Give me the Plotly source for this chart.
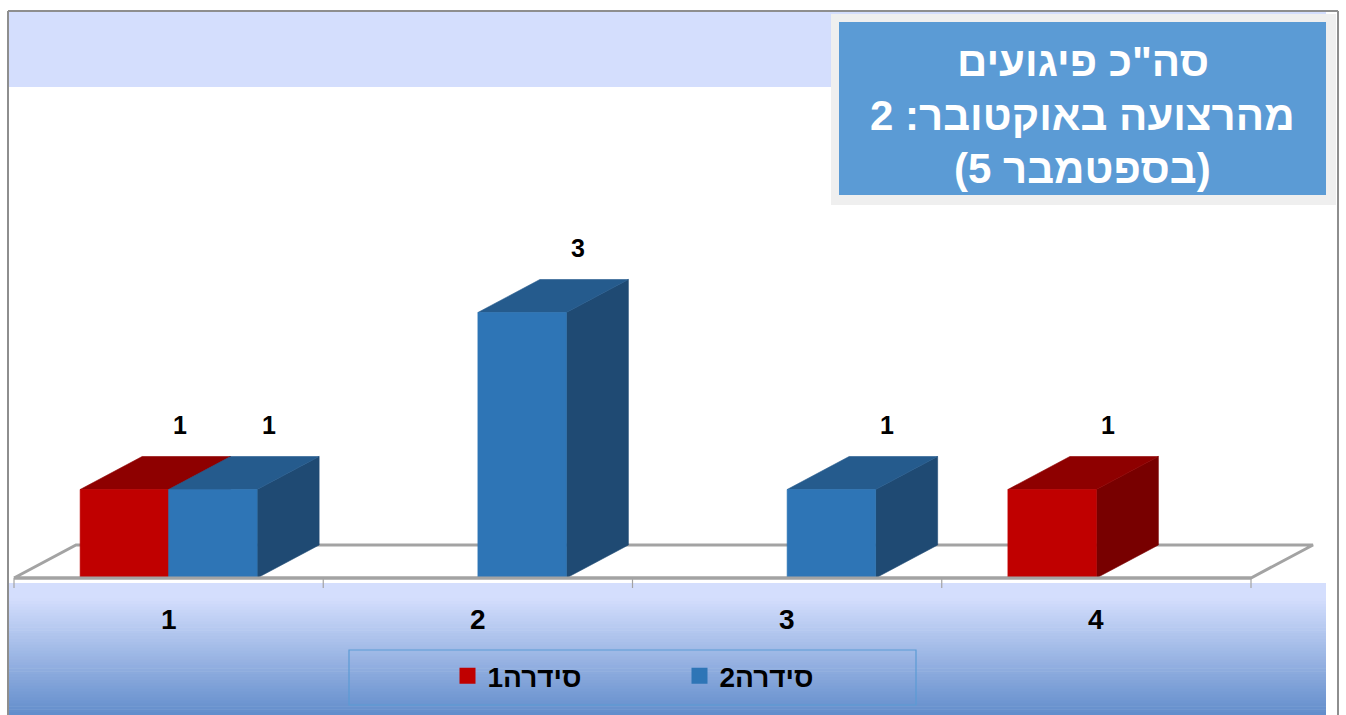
import plotly.graph_objects as go

# ---------------- data ----------------
categories = [1, 2, 3, 4]
category_labels = ["1", "2", "3", "4"]
series_names = ["סידרה1", "סידרה2"]
series1 = [1, 0, 0, 1]
series2 = [1, 3, 1, 0]
title_lines = ['סה"כ פיגועים', 'מהרצועה באוקטובר: 2', '(5 בספטמבר)']

# ---------------- geometry / style ----------------
W, H = 1346, 715
FONT = "Liberation Sans, Arial, sans-serif"
TITLE_FONT = "Liberation Sans, Arial, sans-serif"
PX_PER_CAT = 309.25
PX_PER_UNIT = 88.5
X0_PX, Y0_PX = 14, 578            # pixel of (0.5, 0)
BAR_W = 88.5 / PX_PER_CAT
DX = 62 / PX_PER_CAT
DY = 33 / PX_PER_UNIT
FLOOR_GRAY = "#A3A3A3"

palette = [
    dict(front="#C00000", top="#8E0000", side="#780000", legend="#C00000"),
    dict(front="#2E75B6", top="#255B8D", side="#1F4A73", legend="#2E75B6"),
]
series_values = [series1, series2]
series_offsets = [-BAR_W, 0.0]


def px(x):
    return x / W


def py(y):
    return 1 - y / H


fig = go.Figure()


def poly(xs, ys, fill, line_color=None, line_width=0.6):
    fig.add_trace(go.Scatter(
        x=xs + [xs[0]], y=ys + [ys[0]], mode="lines", fill="toself",
        fillcolor=fill, line=dict(color=line_color or fill, width=line_width),
        hoverinfo="skip", showlegend=False))


# floor
lo, hi = categories[0] - 0.5, categories[-1] + 0.5
poly([lo, hi, hi + DX, lo + DX], [0, 0, DY, DY], "white", FLOOR_GRAY, 3)

# tick marks between categories
tx, ty = [], []
for i in range(len(categories) + 1):
    xb = lo + i
    tx += [xb, xb, None]
    ty += [0, -10 / PX_PER_UNIT, None]
fig.add_trace(go.Scatter(x=tx, y=ty, mode="lines", line=dict(color=FLOOR_GRAY, width=1.2),
                         hoverinfo="skip", showlegend=False))

# 3D bars
labels = []
for ci, c in enumerate(categories):
    for si in range(len(series_values)):
        v = series_values[si][ci]
        if v <= 0:
            continue
        col = palette[si]
        x0 = c + series_offsets[si]
        x1 = x0 + BAR_W
        poly([x1, x1 + DX, x1 + DX, x1], [0, DY, v + DY, v], col["side"])
        poly([x0, x1, x1 + DX, x0 + DX], [v, v, v + DY, v + DY], col["top"])
        poly([x0, x1, x1, x0], [0, 0, v, v], col["front"])
        labels.append((x0 + BAR_W / 2 + 0.18, v + DY + 0.36, str(v)))

# front edge of floor redrawn over bar bottoms
fig.add_trace(go.Scatter(x=[lo, hi], y=[0, 0], mode="lines",
                         line=dict(color=FLOOR_GRAY, width=3),
                         hoverinfo="skip", showlegend=False))

# legend entries
for si, name in enumerate(series_names):
    fig.add_trace(go.Scatter(x=[None], y=[None], mode="markers", name=name,
                             marker=dict(symbol="square", size=16, color=palette[si]["legend"],
                                         line=dict(width=0))))

annotations = []
for (lx, ly, txt) in labels:
    annotations.append(dict(x=lx, y=ly, xref="x", yref="y", text=txt, showarrow=False,
                            font=dict(family=FONT, size=25, color="black", weight="bold")))
for c, lab in zip(categories, category_labels):
    annotations.append(dict(x=c, y=-(619 - Y0_PX) / PX_PER_UNIT, xref="x", yref="y", text=lab,
                            showarrow=False,
                            font=dict(family=FONT, size=28, color="black", weight="bold")))
for line, yc in zip(title_lines, [62, 116, 169]):
    annotations.append(dict(x=px(1082.5), y=py(yc), xref="paper", yref="paper", text=line,
                            showarrow=False, xanchor="center", yanchor="middle",
                            font=dict(family=TITLE_FONT, size=42, color="white", weight="bold")))

shapes = []
# top band
shapes.append(dict(type="rect", xref="paper", yref="paper", x0=px(9), x1=px(1326),
                   y0=py(87), y1=py(12), fillcolor="#D4DEFD", line=dict(width=0), layer="below"))
# bottom gradient band
light = (0xD4, 0xDE, 0xFD)
dark = (0x62, 0x8D, 0xCB)
top_px, flat_px, bot_px = 583, 598, 715
shapes.append(dict(type="rect", xref="paper", yref="paper", x0=px(9), x1=px(1326),
                   y0=py(flat_px), y1=py(top_px), fillcolor="#D4DEFD", line=dict(width=0),
                   layer="below"))
n = 40
for k in range(n):
    t = (k + 0.5) / n
    rgb = tuple(round(light[j] + (dark[j] - light[j]) * t) for j in range(3))
    ya = flat_px + (bot_px - flat_px) * k / n
    yb = flat_px + (bot_px - flat_px) * (k + 1) / n + 0.6
    shapes.append(dict(type="rect", xref="paper", yref="paper", x0=px(9), x1=px(1326),
                       y0=py(yb), y1=py(ya), fillcolor="rgb(%d,%d,%d)" % rgb,
                       line=dict(width=0), layer="below"))
# outer frame
for (xa, ya, xb, yb) in [(8, 11, 8, 715), (8, 11, 1338, 11), (1338, 11, 1338, 715)]:
    shapes.append(dict(type="line", xref="paper", yref="paper", x0=px(xa), y0=py(ya),
                       x1=px(xb), y1=py(yb), line=dict(color="#8E8E8E", width=2), layer="above"))
# title box
shapes.append(dict(type="rect", xref="paper", yref="paper", x0=px(831), x1=px(1336),
                   y0=py(205), y1=py(14), fillcolor="#EFEFEF", line=dict(width=0), layer="above"))
shapes.append(dict(type="rect", xref="paper", yref="paper", x0=px(839), x1=px(1326),
                   y0=py(195), y1=py(22), fillcolor="#5B9BD5", line=dict(width=0), layer="above"))
# legend box
shapes.append(dict(type="rect", xref="paper", yref="paper", x0=px(349), x1=px(916),
                   y0=py(705), y1=py(650), fillcolor="rgba(0,0,0,0)",
                   line=dict(color="#5B9BD5", width=1.2), layer="above"))

x_range = [0.5 - X0_PX / PX_PER_CAT, 0.5 + (W - X0_PX) / PX_PER_CAT]
y_range = [-(H - Y0_PX) / PX_PER_UNIT, Y0_PX / PX_PER_UNIT]

fig.update_layout(
    width=W, height=H, margin=dict(l=0, r=0, t=0, b=0),
    paper_bgcolor="white", plot_bgcolor="white",
    xaxis=dict(range=x_range, visible=False, fixedrange=True, domain=[0, 1]),
    yaxis=dict(range=y_range, visible=False, fixedrange=True, domain=[0, 1]),
    showlegend=True,
    legend=dict(orientation="h", x=px(447.5), xanchor="left", y=py(676), yanchor="middle",
                bgcolor="rgba(0,0,0,0)", borderwidth=0, itemsizing="trace",
                entrywidth=187, entrywidthmode="pixels",
                font=dict(family=FONT, size=28, color="black", weight="bold")),
    annotations=annotations, shapes=shapes,
)

fig.write_html("out.html", config={"displayModeBar": False},
               post_script="document.body.style.margin='0';document.body.style.overflow='hidden';")
